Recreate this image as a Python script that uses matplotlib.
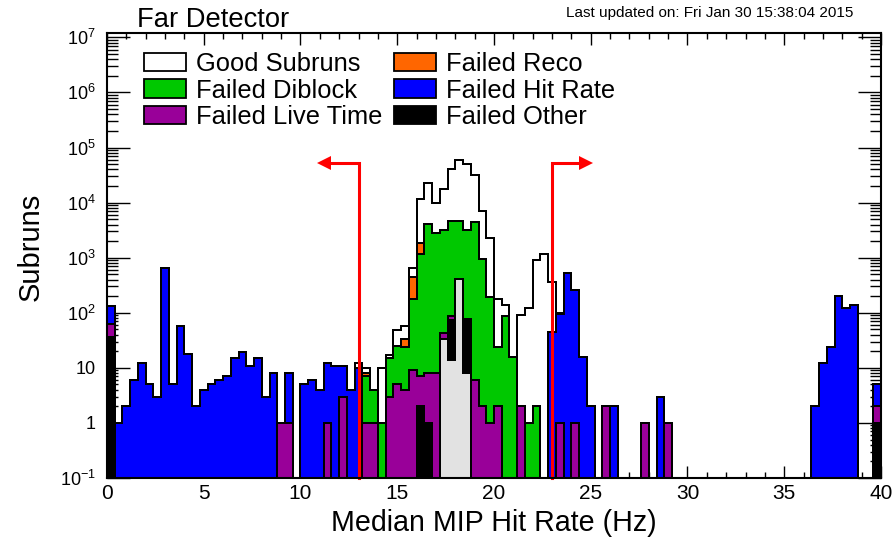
import numpy as np
import matplotlib
matplotlib.use('Agg')
import matplotlib.pyplot as plt
from matplotlib.patches import Patch
from matplotlib.ticker import LogLocator, MultipleLocator, FuncFormatter, NullFormatter

plt.rcParams['font.family'] = ['Liberation Sans', 'DejaVu Sans']
plt.rcParams['mathtext.default'] = 'regular'

# 100 bins of 0.4 Hz between 0 and 40 Hz
edges = np.linspace(0, 40, 101)

# subrun counts per bin for each category, bottom of the stack first
unflagged = [0] * 43 + [33, 14, 418, 8] + [0] * 53

failed_other = [36] + [0] * 39 + [2, 1, 0, 0, 59, 0, 70] + [0] * 52 + [1]

failed_live_time = [
    26, 0, 0, 0, 0, 0, 0, 0, 0, 0,
    0, 0, 0, 0, 0, 0, 0, 0, 0, 0,
    0, 0, 1, 1, 0, 0, 0, 0, 1, 0,
    3, 0, 0, 1, 1, 0, 3, 5, 4, 9,
    5, 7, 8, 10, 14, 0, 0, 6, 2, 1,
    2, 0, 0, 2, 0, 0, 0, 0, 1, 0,
    1, 0, 0, 0, 2, 0, 0, 0, 0, 1,
    0, 0, 1, 0, 0, 0, 0, 0, 0, 0,
    0, 0, 0, 0, 0, 0, 0, 0, 0, 0,
    0, 0, 0, 0, 0, 0, 0, 0, 0, 1,
]

failed_diblock = [0] * 33 + [
    6, 3, 1, 12, 20, 20, 172,
    1143, 4142, 2792, 3107, 4513, 4182, 3072, 4494, 958, 189,
    22, 86, 16, 0, 1, 2,
] + [0] * 44

failed_reco = [0] * 33 + [1, 0, 0, 0, 0, 10, 270, 670] + [0] * 59

failed_hit_rate = [
    69, 1, 2, 6, 12, 5, 3, 660, 5, 57,
    18, 2, 4, 5, 6, 7, 15, 19, 11, 15,
    3, 8, 0, 7, 0, 5, 6, 4, 11, 11,
    8, 4, 10, 0, 0, 0, 0, 0, 0, 0,
    0, 0, 0, 0, 0, 0, 0, 0, 0, 0,
    0, 0, 0, 0, 0, 0, 0, 45, 94, 530,
    255, 16, 2, 0, 0, 2, 0, 0, 0, 0,
    0, 3, 0, 0, 0, 0, 0, 0, 0, 0,
    0, 0, 0, 0, 0, 0, 0, 0, 0, 0,
    0, 2, 12, 24, 200, 122, 137, 0, 0, 3,
]

good_subruns = [0] * 32 + [
    2, 2, 0, 9, 2, 23, 24, 190,
    9680, 18850, 7200, 14550, 35400, 54400, 46850, 27500, 5940, 2040,
    154, 51, 0, 88, 119, 918, 1180, 310, 5,
] + [0] * 41

# hit rate cut window
low_cut = 13.0
high_cut = 23.0
arrow_len = 2.1
arrow_height = 5.2e4

stack = [
    (unflagged, '#e2e2e2', None),
    (failed_other, '#000000', 'Failed Other'),
    (failed_live_time, '#990099', 'Failed Live Time'),
    (failed_diblock, '#00c800', 'Failed Diblock'),
    (failed_reco, '#ff6600', 'Failed Reco'),
    (failed_hit_rate, '#0000ff', 'Failed Hit Rate'),
    (good_subruns, '#ffffff', 'Good Subruns'),
]

fig = plt.figure(figsize=(8.95, 5.42), dpi=100)
ax = fig.add_axes([107 / 895, 1 - 478 / 542, 774 / 895, 445 / 542])
ax.set_yscale('log')

# draw the cumulative sums from the top of the stack down
totals = np.cumsum([np.asarray(v, dtype=float) for v, _, _ in stack], axis=0)
for (vals, color, label), cum in reversed(list(zip(stack, totals))):
    cum = np.where(cum > 0, cum, 1e-3)
    ax.stairs(cum, edges, baseline=1e-3, fill=True, facecolor=color,
              edgecolor='black', linewidth=1.4, zorder=2)
    ax.stairs(cum, edges, baseline=1e-3, fill=False, color='black',
              linewidth=1.4, zorder=2)

# cut lines with arrows pointing to the rejected side
for cut, sign in ((low_cut, -1), (high_cut, 1)):
    tip = cut + sign * arrow_len
    ax.plot([cut, cut, tip - sign * 0.3], [0.1, arrow_height, arrow_height],
            color='red', linewidth=2.2, zorder=5, solid_joinstyle='miter',
            clip_on=False)
    ax.plot(tip - sign * 0.33, arrow_height, marker='<' if sign < 0 else '>',
            markersize=10.5, color='red', markeredgewidth=0, zorder=5)

ax.set_xlim(0, 40)
ax.set_ylim(0.1, 1.2e7)

ax.xaxis.set_major_locator(MultipleLocator(5))
ax.xaxis.set_minor_locator(MultipleLocator(1))
ax.yaxis.set_major_locator(LogLocator(base=10, numticks=20))
ax.yaxis.set_minor_locator(LogLocator(base=10, subs=np.arange(2, 10), numticks=20))
ax.yaxis.set_minor_formatter(NullFormatter())


def log_label(v, pos):
    n = int(round(np.log10(v)))
    if n == 0:
        return '1'
    if n == 1:
        return '10'
    return r'$\mathdefault{10^{%d}}$' % n


ax.yaxis.set_major_formatter(FuncFormatter(log_label))
ax.tick_params(which='both', direction='in', top=True, right=True, width=1.0,
               color='black')
ax.tick_params(axis='x', which='major', length=8.5, labelsize=15, pad=4)
ax.tick_params(axis='x', which='minor', length=4.3)
ax.tick_params(axis='y', which='major', length=16.5, labelsize=13, pad=8)
ax.tick_params(axis='y', which='minor', length=8)
for s in ax.spines.values():
    s.set_linewidth(1.5)
    s.set_zorder(6)

ax.set_xlabel('Median MIP Hit Rate (Hz)', fontsize=20.6)
ax.xaxis.set_label_coords(0.5, (478 - 509) / 445)
ax.set_ylabel('Subruns', fontsize=21)
ax.yaxis.set_label_coords((45 - 107) / 774, 0.52)

handles = [Patch(facecolor=c, edgecolor='black', linewidth=1.3, label=l)
           for _, c, l in [stack[6], stack[3], stack[2], stack[4], stack[5], stack[1]]]
ax.legend(handles=handles, ncol=2, loc='upper left',
          bbox_to_anchor=((144 - 107) / 774, (478 - 52) / 445),
          frameon=False, fontsize=18.4, handlelength=1.64, handleheight=0.74,
          handletextpad=0.39, columnspacing=0.47, labelspacing=0.1,
          borderpad=0, borderaxespad=0)

fig.text(137 / 895, 1 - 26.7 / 542, 'Far Detector', fontsize=19.7,
         va='baseline', ha='left')
fig.text(566 / 895, 1 - 17.3 / 542, 'Last updated on: Fri Jan 30 15:38:04 2015',
         fontsize=11, va='baseline', ha='left')

fig.savefig('out.png', dpi=100)
